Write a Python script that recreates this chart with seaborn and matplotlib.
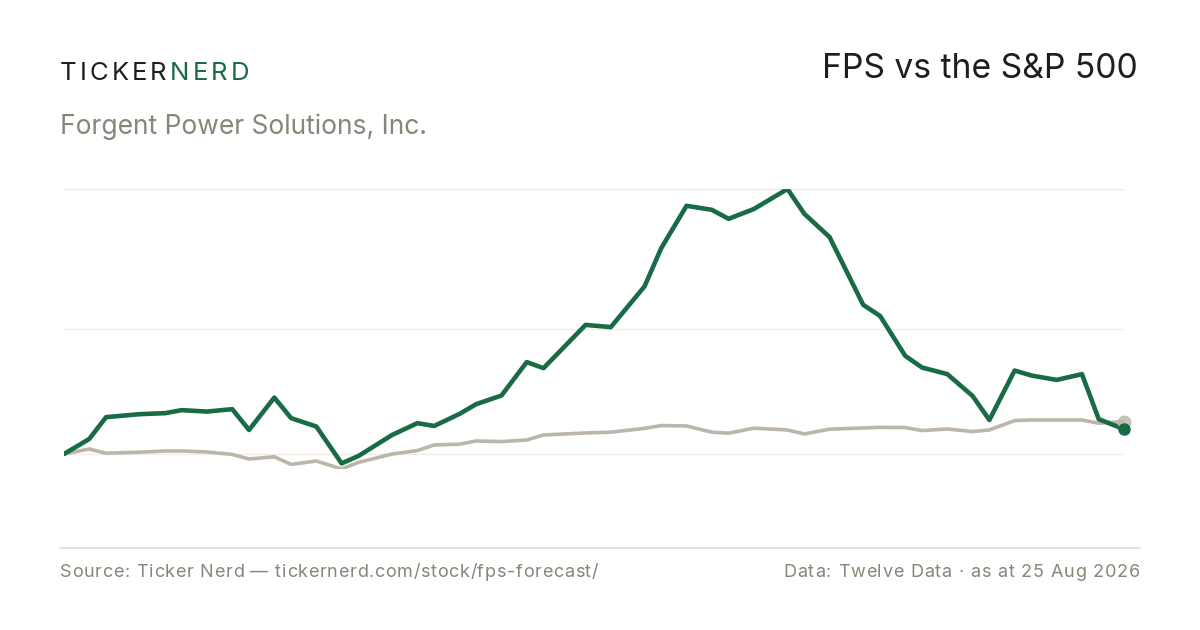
import pandas as pd
import seaborn as sns
import matplotlib.pyplot as plt
from matplotlib.lines import Line2D

# trading day index (sampled points) and % change since start
day = [0, 3, 5, 9, 12, 14, 17, 20, 22, 25, 27, 30, 33, 35, 39, 42, 44, 47, 49, 52,
       55, 57, 62, 65, 69, 71, 74, 77, 79, 82, 86, 88, 91, 95, 97, 100, 102, 105,
       108, 110, 113, 115, 118, 121, 123, 126]
fps = [0.0, 7.5, 18.4, 19.9, 20.4, 21.9, 21.2, 22.4, 12.0, 28.2, 17.9, 13.7, -4.7,
       -1.0, 9.5, 15.4, 14.0, 20.0, 24.9, 29.2, 45.9, 42.9, 64.5, 63.4, 83.7, 102.9,
       124.0, 122.0, 117.5, 122.4, 132.4, 120.0, 108.4, 74.5, 69.0, 49.0, 43.2, 39.9,
       29.0, 17.0, 41.7, 39.2, 37.0, 39.9, 17.4, 12.4]
spx = [0.0, 2.5, 0.4, 0.9, 1.5, 1.5, 1.0, -0.2, -2.5, -1.4, -5.2, -3.5, -7.5, -4.2,
       0.0, 1.7, 4.5, 4.9, 6.5, 6.2, 7.0, 9.5, 10.5, 10.9, 12.8, 14.2, 14.0, 10.9,
       10.4, 12.9, 12.0, 10.0, 12.4, 13.0, 13.3, 13.2, 11.7, 12.5, 11.2, 12.0, 16.7,
       17.0, 17.0, 17.0, 15.4, 16.2]
series = ["FPS", "S&P 500"]

GREEN = "#186b45"
GREY = "#bcb5aa"
INK = "#1e1e1e"
MUTED = "#8a8578"

df = pd.concat([
    pd.DataFrame({"day": day, "chg": spx, "name": series[1]}),
    pd.DataFrame({"day": day, "chg": fps, "name": series[0]}),
])

sns.set_theme(style="white")
plt.rcParams["font.family"] = ["Inter", "DejaVu Sans"]

W, H = 1200, 630
fig = plt.figure(figsize=(W / 100, H / 100), dpi=100)
ax = fig.add_axes([64 / W, (H - 469) / H, (1124 - 64) / W, (469 - 189) / H])

lo = min(min(fps), min(spx))
hi = max(max(fps), max(spx))
for g in [hi, (hi + lo) / 2, 0]:
    ax.axhline(g, color="#efece6", lw=1.0, zorder=0)

sns.lineplot(data=df, x="day", y="chg", hue="name",
             palette={series[0]: GREEN, series[1]: GREY},
             size="name", sizes={series[0]: 3.3, series[1]: 2.6},
             legend=False, ax=ax, zorder=3)
ax.plot(day[-1], spx[-1], "o", color=GREY, ms=9, alpha=0.8, zorder=4, clip_on=False)
ax.plot(day[-1], fps[-1], "o", color=GREEN, ms=8, zorder=5, clip_on=False)

ax.set_xlim(day[0], day[-1])
ax.set_ylim(lo, hi)
ax.set_axis_off()

# footer rule
fig.add_artist(Line2D([60 / W, 1140 / W], [(H - 548) / H] * 2, color="#e2ded6", lw=1.2))

r = fig.canvas.get_renderer()


def char_w(ch, size):
    t = fig.text(0, 0, ch, fontsize=size)
    w = t.get_window_extent(r).width
    t.remove()
    return w


def spaced(x_px, y_px, parts, size, gap, ha="left"):
    if ha == "right":
        total = sum(char_w(c, size) + gap for chunk, _ in parts for c in chunk) - gap
        x_px -= total
    x = x_px
    for chunk, color in parts:
        for ch in chunk:
            fig.text(x / W, (H - y_px) / H, ch, color=color, fontsize=size, va="baseline")
            x += char_w(ch, size) + gap


spaced(60, 79.5, [("TICKER", INK)], 18.5, 3.1)
spaced(170, 79.5, [("NERD", GREEN)], 18.5, 3.1)
fig.text(60 / W, (H - 133.5) / H, "Forgent Power Solutions, Inc.", color=MUTED,
         fontsize=19, va="baseline")
fig.text(1138 / W, (H - 78) / H, "FPS vs the S&P 500", color=INK, fontsize=24.2,
         ha="right", va="baseline")
spaced(60, 577, [("Source: Ticker Nerd \u2014 tickernerd.com/stock/fps-forecast/", MUTED)],
       13, 0.7)
spaced(1140, 577, [("Data: Twelve Data \u00b7 as at 25 Aug 2026", MUTED)],
       13, 0.8, ha="right")

fig.savefig("out.png", dpi=100, facecolor="white")
